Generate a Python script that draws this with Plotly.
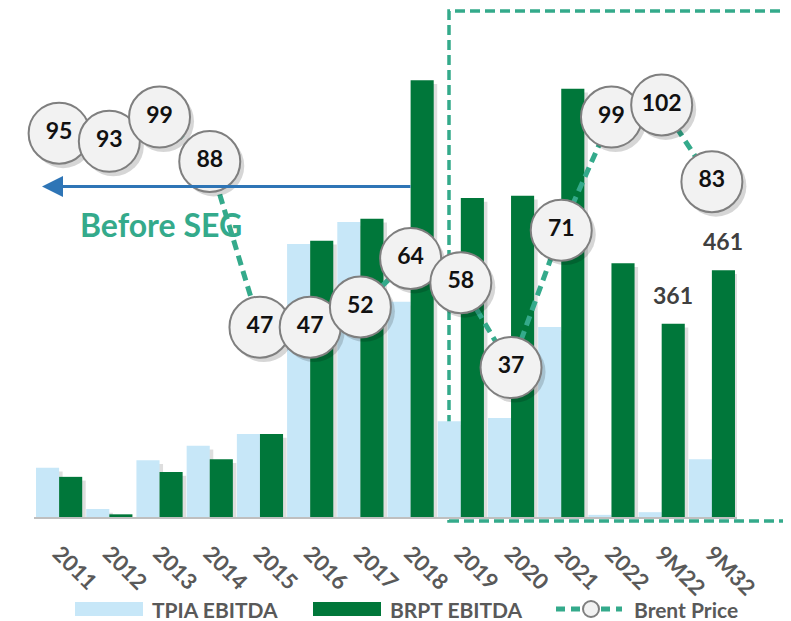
import plotly.graph_objects as go

periods = ['2011', '2012', '2013', '2014', '2015', '2016', '2017', '2018',
           '2019', '2020', '2021', '2022', '9M22', '9M32']
tpia_ebitda = [92, 15, 106, 133, 155, 510, 551, 402, 179, 185, 355, 4, 9, 108]
brpt_ebitda = [75, 5, 84, 108, 155, 516, 557, 816, 596, 600, 800, 474, 361, 461]
brent_price = [95, 93, 99, 88, 47, 47, 52, 64, 58, 37, 71, 99, 102, 83]
labelled = ['9M22', '9M32']

teal = '#34AA8B'
light_blue = '#C7E7F8'
green = '#00773A'
grey_txt = '#595959'
font = 'Lato'

xs = list(range(len(periods)))

# page body adds an 8px margin, so the figure is shrunk by that much
# plot area sits at 34..737 px across and 10..517 px down in the page
def px(x):
    return (x - 34) / 703

def py(y):
    return (517 - y) / 507

fig = go.Figure()

# soft shadows for the bars
for vals, off in [(tpia_ebitda, -0.46), (brpt_ebitda, 0)]:
    fig.add_trace(go.Bar(x=xs, y=[max(v - 7, 0) for v in vals], width=0.46,
                         offset=off + 0.07, marker=dict(color='rgba(0,0,0,0.13)', line_width=0),
                         hoverinfo='skip', showlegend=False))

fig.add_trace(go.Bar(x=xs, y=tpia_ebitda, width=0.46, offset=-0.46, name='TPIA EBITDA',
                     marker=dict(color=light_blue, line_width=0)))
fig.add_trace(go.Bar(x=xs, y=brpt_ebitda, width=0.46, offset=0, name='BRPT EBITDA',
                     marker=dict(color=green, line_width=0)))

fig.add_trace(go.Scatter(x=xs, y=brent_price, yaxis='y2', mode='lines', name='Brent Price',
                         line=dict(color=teal, width=5, dash='10px,6px')))
fig.add_trace(go.Scatter(x=[x + 0.08 for x in xs], y=[v - 1.1 for v in brent_price], yaxis='y2',
                         mode='markers', hoverinfo='skip', showlegend=False, cliponaxis=False,
                         marker=dict(size=61, color='rgba(0,0,0,0.16)', line_width=0)))
fig.add_trace(go.Scatter(x=xs, y=brent_price, yaxis='y2', mode='markers+text', showlegend=False,
                         cliponaxis=False, text=[str(v) for v in brent_price],
                         textposition='middle center',
                         textfont=dict(family=font, size=23, color='#111111', weight='bold'),
                         marker=dict(size=61, color='#F2F2F2', line=dict(color='#7F7F7F', width=2))))

annotations = []
for p in labelled:
    i = periods.index(p)
    annotations.append(dict(x=i + 0.23, y=brpt_ebitda[i], xref='x', yref='y', text=str(brpt_ebitda[i]),
                            showarrow=False, yanchor='bottom', yshift=13,
                            font=dict(family=font, size=23, color='#404040', weight='bold')))

annotations.append(dict(x=px(42), y=py(186.5), xref='paper', yref='paper', ax=370, ay=0,
                        axref='pixel', ayref='pixel', text='', showarrow=True, arrowhead=2,
                        arrowsize=1.4, arrowwidth=3, arrowcolor='#2E75B6'))
annotations.append(dict(x=px(161), y=py(225), xref='paper', yref='paper', text='Before SEG',
                        xanchor='center', yanchor='middle', showarrow=False,
                        font=dict(family=font, size=32, color=teal, weight='bold')))

shapes = [dict(type='rect', xref='paper', yref='paper', x0=px(449), x1=px(787), y0=py(521), y1=py(11),
               line=dict(color=teal, width=3.5, dash='10px,5px'), layer='below')]

# legend drawn by hand to get the wide Excel-style keys
ly = 609
shapes.append(dict(type='rect', xref='paper', yref='paper', x0=px(75), x1=px(143), y0=py(616), y1=py(602),
                   fillcolor=light_blue, line_width=0))
shapes.append(dict(type='rect', xref='paper', yref='paper', x0=px(313), x1=px(381), y0=py(616), y1=py(602),
                   fillcolor=green, line_width=0))
shapes.append(dict(type='line', xref='paper', yref='paper', x0=px(556), x1=px(622), y0=py(ly), y1=py(ly),
                   line=dict(color=teal, width=5, dash='9px,6px')))
shapes.append(dict(type='circle', xref='paper', yref='paper', x0=px(583), x1=px(599), y0=py(617), y1=py(601),
                   fillcolor='#F2F2F2', line=dict(color='#7F7F7F', width=2)))
for x, t in [(150, 'TPIA EBITDA'), (388, 'BRPT EBITDA'), (632, 'Brent Price')]:
    annotations.append(dict(x=px(x), y=py(ly), xref='paper', yref='paper', text=t, showarrow=False,
                            xanchor='left', yanchor='middle',
                            font=dict(family=font, size=21, color=grey_txt, weight='bold')))

fig.update_layout(
    width=783, height=613,
    margin=dict(l=26, r=54, t=2, b=104),
    paper_bgcolor='white', plot_bgcolor='rgba(0,0,0,0)',
    barmode='overlay', showlegend=False,
    xaxis=dict(range=[-0.5, 13.5], tickmode='array', tickvals=xs, ticktext=periods,
               tickangle=45, ticks='', ticklabelstandoff=13, showgrid=False, zeroline=False,
               showline=True, linecolor='#BFBFBF', linewidth=2,
               tickfont=dict(family=font, size=22, color=grey_txt, weight='bold')),
    yaxis=dict(range=[0, 947], visible=False),
    yaxis2=dict(range=[0, 125.5], overlaying='y', visible=False),
    annotations=annotations,
    shapes=shapes,
)

fig.write_html('out.html')
